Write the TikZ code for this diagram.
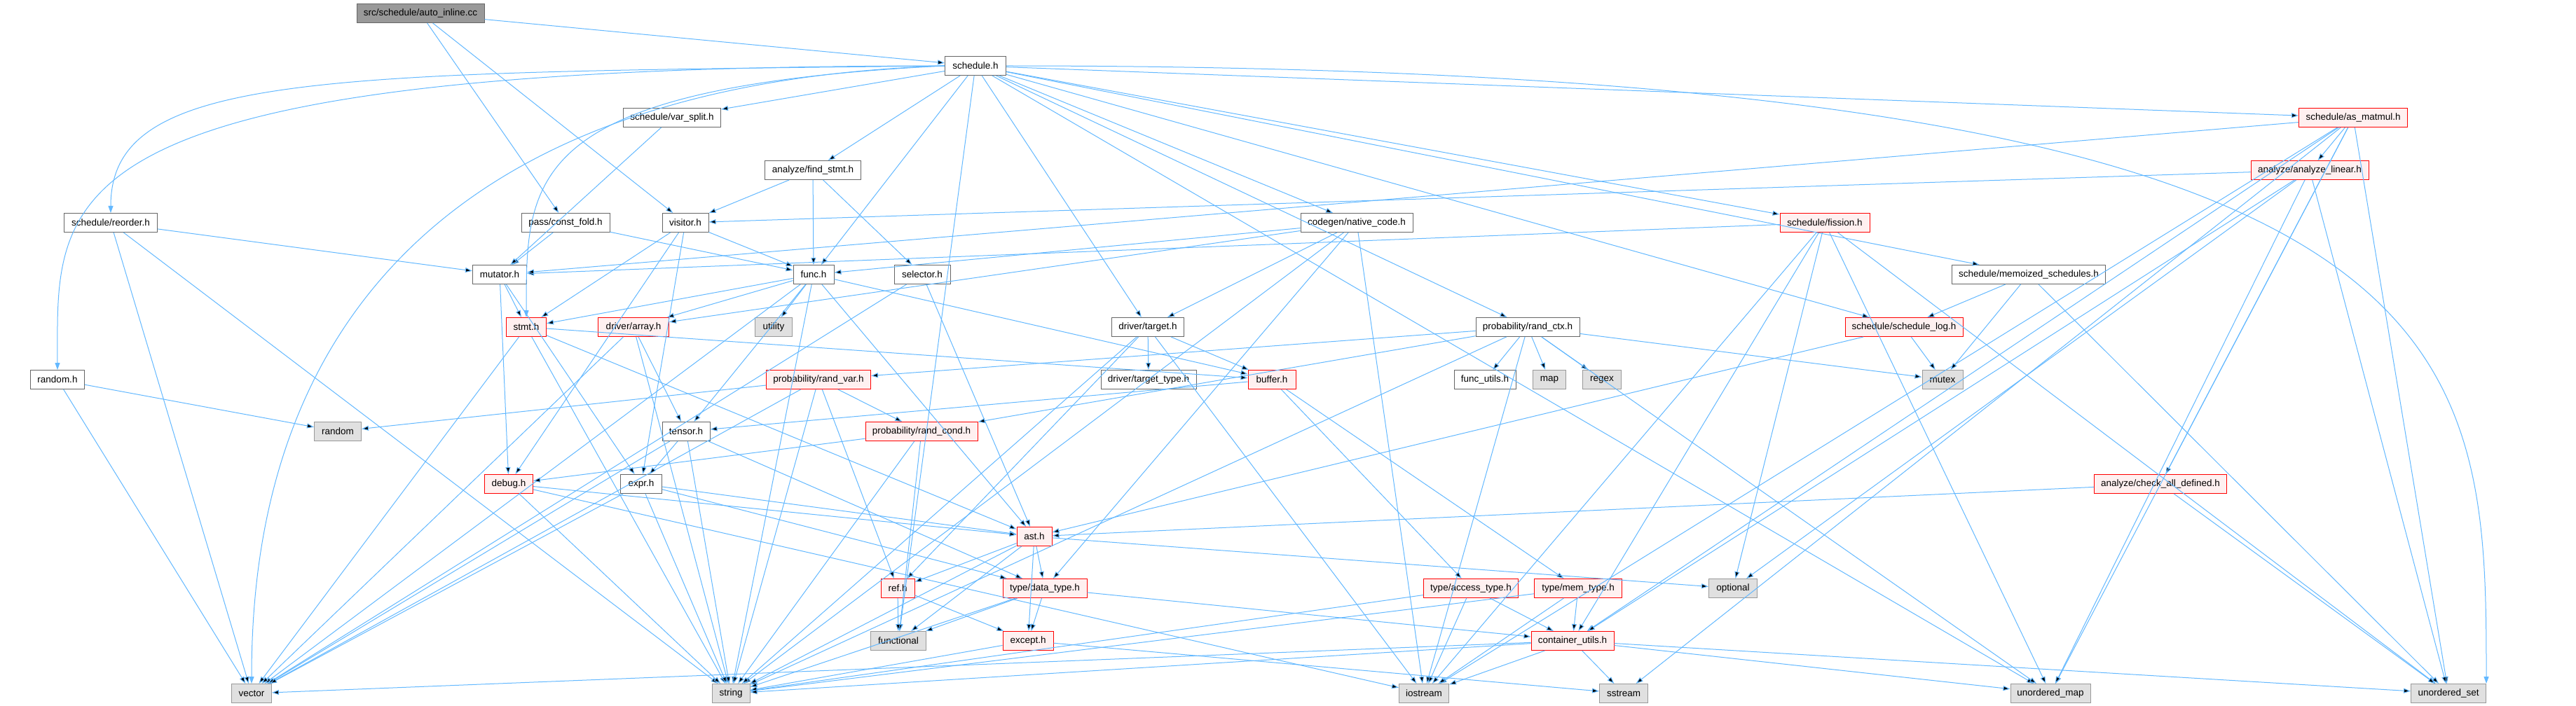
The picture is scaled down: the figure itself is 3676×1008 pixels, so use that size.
\documentclass[tikz,border=0pt]{standalone}
\usepackage{fontspec}
\setmainfont{Liberation Sans}
\usepackage{xcolor}
\usepackage{tikz}
\usetikzlibrary{arrows.meta}

\definecolor{edgeblue}{HTML}{63B8FF}
\definecolor{hdrline}{HTML}{666666}
\definecolor{redfill}{HTML}{FFF0F0}
\definecolor{sysfill}{HTML}{E0E0E0}
\definecolor{sysline}{HTML}{999999}
\definecolor{rootfill}{HTML}{999999}

\tikzset{
    hdr/.style={rectangle, draw=hdrline, fill=white, line width=1pt, minimum height=27pt,
        inner sep=0pt, font=\fontsize{13.5}{16}\selectfont},
    hdrred/.style={hdr, draw=red, fill=redfill},
    sys/.style={hdr, draw=sysline, fill=sysfill},
    root/.style={hdr, fill=rootfill},
    dep/.style={draw=edgeblue, line width=1pt, -{Triangle[length=10pt,width=7pt]}}
}

\begin{document}
\begin{tikzpicture}[x=1pt, y=-1pt]
\useasboundingbox (0,0) rectangle (3676,1008);

% row 1-2
\node[root, minimum width=182pt] (autoinl) at (600,19) {src/schedule/auto\_inline.cc};
\node[hdr, minimum width=87pt] (sched) at (1392,94) {schedule.h};
\node[hdr, minimum width=139pt] (varsplit) at (959,168) {schedule/var\_split.h};
\node[hdrred, minimum width=155pt] (asmatmul) at (3358,168) {schedule/as\_matmul.h};
\node[hdr, minimum width=137pt] (findstmt) at (1160,243) {analyze/find\_stmt.h};
\node[hdrred, minimum width=168pt] (anlinear) at (3296,243) {analyze/analyze\_linear.h};

% row 3-4
\node[hdr, minimum width=133pt] (reorder) at (158,318) {schedule/reorder.h};
\node[hdr, minimum width=126pt] (constfold) at (807,318) {pass/const\_fold.h};
\node[hdr, minimum width=66pt] (visitor) at (978,318) {visitor.h};
\node[hdr, minimum width=160pt] (nativecode) at (1936,318) {codegen/native\_code.h};
\node[hdrred, minimum width=128pt] (fission) at (2604,318) {schedule/fission.h};
\node[hdr, minimum width=77pt] (mutator) at (713,392) {mutator.h};
\node[hdr, minimum width=58pt] (func) at (1161,392) {func.h};
\node[hdr, minimum width=80pt] (selector) at (1316,392) {selector.h};
\node[hdr, minimum width=219pt] (memo) at (2895,392) {schedule/memoized\_schedules.h};

% row 5-6
\node[hdrred, minimum width=57pt] (stmt) at (751,467) {stmt.h};
\node[hdrred, minimum width=101pt] (darray) at (904,467) {driver/array.h};
\node[sys, minimum width=53pt] (utility) at (1104,467) {utility};
\node[hdr, minimum width=103pt] (dtarget) at (1638,467) {driver/target.h};
\node[hdr, minimum width=148pt] (randctx) at (2180,467) {probability/rand\_ctx.h};
\node[hdrred, minimum width=168pt] (schedlog) at (2717,467) {schedule/schedule\_log.h};
\node[hdr, minimum width=77pt] (randomh) at (82,542) {random.h};
\node[hdrred, minimum width=149pt] (randvar) at (1168,542) {probability/rand\_var.h};
\node[hdr, minimum width=136pt] (ttype) at (1639,542) {driver/target\_type.h};
\node[hdrred, minimum width=68pt] (buffer) at (1815,542) {buffer.h};
\node[hdr, minimum width=88pt] (funcutils) at (2119,542) {func\_utils.h};
\node[sys, minimum width=47pt] (map) at (2211,542) {map};
\node[sys, minimum width=55pt] (regex) at (2286,542) {regex};
\node[sys, minimum width=58pt] (mutex) at (2772,542) {mutex};

% row 7-8
\node[sys, minimum width=67pt] (random) at (482,616) {random};
\node[hdr, minimum width=68pt] (tensor) at (979,616) {tensor.h};
\node[hdrred, minimum width=160pt] (randcond) at (1315,616) {probability/rand\_cond.h};
\node[hdrred, minimum width=69pt] (debug) at (726,691) {debug.h};
\node[hdr, minimum width=59pt] (expr) at (915,691) {expr.h};
\node[hdrred, minimum width=189pt] (checkdef) at (3083,691) {analyze/check\_all\_defined.h};

% row 9-10
\node[hdrred, minimum width=50pt] (ast) at (1476,766) {ast.h};
\node[hdrred, minimum width=48pt] (refh) at (1281,840) {ref.h};
\node[hdrred, minimum width=120pt] (dtype) at (1491,840) {type/data\_type.h};
\node[hdrred, minimum width=135pt] (acctype) at (2099,840) {type/access\_type.h};
\node[hdrred, minimum width=125pt] (memtype) at (2252,840) {type/mem\_type.h};
\node[sys, minimum width=69pt] (optional) at (2473,840) {optional};
\node[sys, minimum width=79pt] (functional) at (1282,915) {functional};
\node[hdrred, minimum width=72pt] (except) at (1467,915) {except.h};
\node[hdrred, minimum width=118pt] (contutils) at (2244,915) {container\_utils.h};

% system headers at the bottom
\node[sys, minimum width=57pt] (vector) at (359,990) {vector};
\node[sys, minimum width=54pt] (string) at (1043,990) {string};
\node[sys, minimum width=71pt] (iostream) at (2032,990) {iostream};
\node[sys, minimum width=69pt] (sstream) at (2317,990) {sstream};
\node[sys, minimum width=114pt] (umap) at (2926,990) {unordered\_map};
\node[sys, minimum width=107pt] (uset) at (3494,990) {unordered\_set};

% includes
\path[dep] (autoinl) edge (sched) edge (constfold) edge (visitor);
\draw[dep] (sched.west) .. controls +(-900,10) and +(0,-200) .. (reorder.north);
\draw[dep] (sched.west) .. controls +(-1300,0) and +(0,-250) .. (randomh.north);
\draw[dep] (sched.west) .. controls +(-600,30) and +(0,-200) .. (stmt.north);
\draw[dep] (sched.west) .. controls +(-900,30) and +(0,-300) .. (vector.north);
\draw[dep] (sched.east) .. controls +(2100,0) and +(0,-500) .. (uset.north east);
\path[dep] (sched) edge (varsplit) edge (findstmt) edge (func)
    edge (nativecode) edge (dtarget) edge (randctx) edge (fission) edge (asmatmul)
    edge (memo) edge (schedlog) edge (functional) edge (umap);
\path[dep] (reorder) edge (mutator) edge (vector) edge (string);
\path[dep] (constfold) edge (mutator) edge (func);
\path[dep] (varsplit) edge (mutator);
\path[dep] (findstmt) edge (visitor) edge (func) edge (selector);
\path[dep] (visitor) edge (stmt) edge (func) edge (debug) edge (expr);
\path[dep] (mutator) edge (stmt) edge (debug) edge (expr);
\path[dep] (func) edge (stmt) edge (darray) edge (tensor) edge (utility) edge (buffer)
    edge (ast) edge (vector) edge (string);
\path[dep] (selector) edge (ast) edge (vector);
\path[dep] (nativecode) edge (func) edge (dtarget) edge (darray) edge (string)
    edge (iostream) edge (dtype);
\path[dep] (fission) edge (mutator) edge (iostream) edge (umap) edge (uset)
    edge (optional) edge (contutils);
\path[dep] (asmatmul) edge (anlinear) edge (checkdef) edge (mutator) edge (umap)
    edge (uset) edge (contutils) edge (sstream) edge (iostream);
\path[dep] (anlinear) edge (visitor) edge (umap) edge (uset) edge (optional) edge (contutils);
\path[dep] (memo) edge (schedlog) edge (mutex) edge (uset);
\path[dep] (schedlog) edge (mutex) edge (ast);
\path[dep] (checkdef) edge (ast) edge (uset);
\path[dep] (randctx) edge (funcutils) edge (map) edge (regex) edge (mutex) edge (randvar)
    edge (randcond) edge (umap) edge (iostream) edge (string);
\path[dep] (randvar) edge (random) edge (refh) edge (randcond) edge (vector) edge (string);
\path[dep] (randcond) edge (debug) edge (functional) edge (string);
\path[dep] (dtarget) edge (ttype) edge (buffer) edge (refh) edge (string) edge (iostream);
\path[dep] (buffer) edge (tensor) edge (acctype) edge (memtype);
\path[dep] (stmt) edge (ast) edge (buffer) edge (vector) edge (string);
\path[dep] (darray) edge (tensor) edge (vector) edge (string);
\path[dep] (tensor) edge (expr) edge (dtype) edge (vector) edge (string);
\path[dep] (expr) edge (ast) edge (dtype) edge (vector) edge (string);
\path[dep] (debug) edge (ast) edge (string) edge (iostream);
\path[dep] (ast) edge (refh) edge (dtype) edge (functional) edge (except) edge (optional)
    edge (string);
\path[dep] (refh) edge (functional) edge (except);
\path[dep] (dtype) edge (functional) edge (except) edge (contutils) edge (string);
\path[dep] (acctype) edge (string) edge (iostream) edge (contutils);
\path[dep] (memtype) edge (string) edge (iostream) edge (contutils);
\path[dep] (except) edge (string) edge (sstream);
\path[dep] (contutils) edge (vector) edge (string) edge (iostream) edge (sstream)
    edge (umap) edge (uset);
\path[dep] (randomh) edge (random) edge (vector);
\end{tikzpicture}
\end{document}
